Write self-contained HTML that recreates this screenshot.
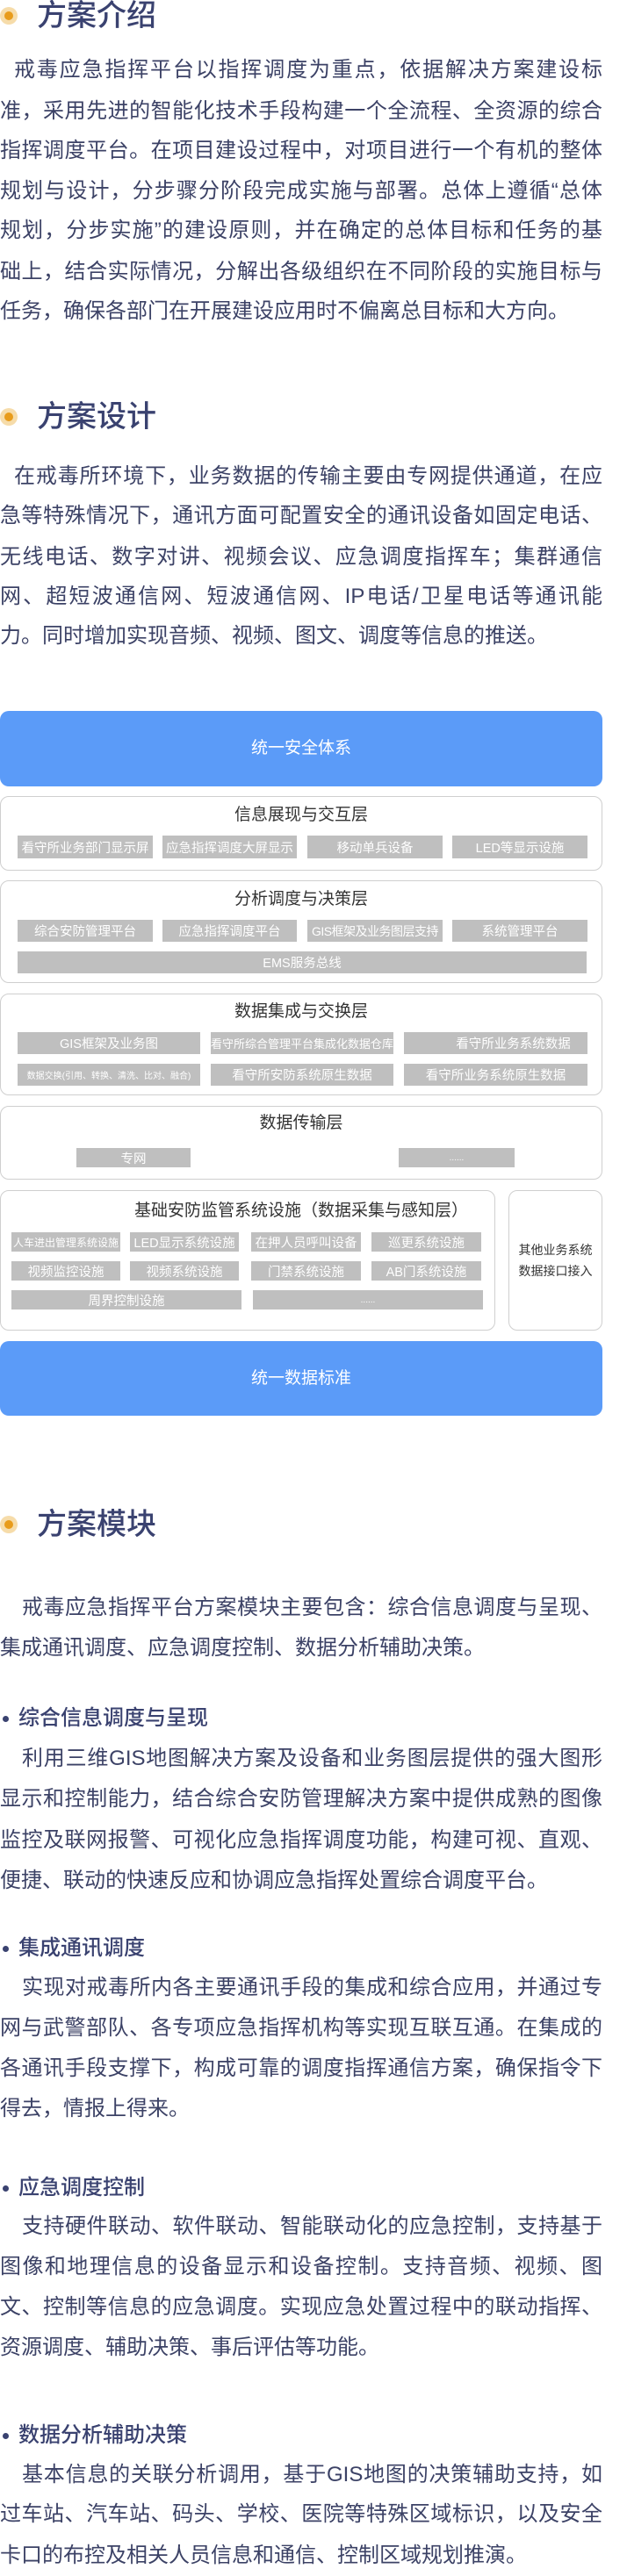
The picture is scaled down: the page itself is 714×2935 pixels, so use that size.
<!DOCTYPE html>
<html><head><meta charset="utf-8">
<style>
*{margin:0;padding:0;box-sizing:border-box}
body{width:714px;height:2923px;background:#fff;position:relative;overflow:hidden;font-family:"Liberation Sans","Noto Sans CJK SC",sans-serif}
.h{position:absolute;left:42px;font-size:34px;line-height:40px;color:#3a4270;font-weight:500;height:40px}
.dot{position:absolute;left:0;width:20px;height:20px;border-radius:50%;background:#f6dcaa}
.dot::after{content:"";position:absolute;left:5px;top:5px;width:10px;height:10px;border-radius:50%;background:#e89c1c}
.l{position:absolute;left:0;width:686px;height:46px;line-height:46px;font-size:24px;color:#3c4266;white-space:nowrap;text-align:justify;text-align-last:justify}
.l.e{text-align-last:left}
.i1{padding-left:16px}
.i2{padding-left:25px}
.b{position:absolute;left:21px;font-size:24px;line-height:46px;height:46px;color:#3a4270;font-weight:500}
.b::before{content:"";position:absolute;left:-18px;top:20px;width:7px;height:7px;border-radius:50%;background:#3a4270}
.blue{position:absolute;left:0;width:686px;background:#5b9bf8;border-radius:10px;color:#fff;font-size:19px;text-align:center}
.box{position:absolute;border:1.5px solid #cfcfcf;border-radius:10px;background:#fff}
.t{position:absolute;left:0;width:686px;text-align:center;font-size:19px;color:#333;line-height:26px}
.it{position:absolute;background:#bfbfbf;color:#fff;font-size:14.5px;display:flex;align-items:center;justify-content:center;white-space:nowrap;overflow:hidden}
</style></head><body>

<div class="dot" style="top:8px"></div>
<div class="h" style="top:-2px">方案介绍</div>
<div class="l i1" style="top:57px">戒毒应急指挥平台以指挥调度为重点，依据解决方案建设标</div>
<div class="l" style="top:104px">准，采用先进的智能化技术手段构建一个全流程、全资源的综合</div>
<div class="l" style="top:149px">指挥调度平台。在项目建设过程中，对项目进行一个有机的整体</div>
<div class="l" style="top:195px">规划与设计，分步骤分阶段完成实施与部署。总体上遵循“总体</div>
<div class="l" style="top:240px">规划，分步实施”的建设原则，并在确定的总体目标和任务的基</div>
<div class="l" style="top:287px">础上，结合实际情况，分解出各级组织在不同阶段的实施目标与</div>
<div class="l e" style="top:332px">任务，确保各部门在开展建设应用时不偏离总目标和大方向。</div>

<div class="dot" style="top:465px"></div>
<div class="h" style="top:455px">方案设计</div>
<div class="l i1" style="top:520px">在戒毒所环境下，业务数据的传输主要由专网提供通道，在应</div>
<div class="l" style="top:565px">急等特殊情况下，通讯方面可配置安全的通讯设备如固定电话、</div>
<div class="l" style="top:612px">无线电话、数字对讲、视频会议、应急调度指挥车；集群通信</div>
<div class="l" style="top:657px">网、超短波通信网、短波通信网、IP电话/卫星电话等通讯能</div>
<div class="l e" style="top:702px">力。同时增加实现音频、视频、图文、调度等信息的推送。</div>

<div class="blue" style="top:810px;height:86px;line-height:86px">统一安全体系</div>

<div class="box" style="left:0;top:907px;width:686px;height:85px"></div>
<div class="t" style="top:916px">信息展现与交互层</div>
<div class="it" style="left:20px;top:952px;width:154px;height:26px">看守所业务部门显示屏</div>
<div class="it" style="left:185px;top:952px;width:153px;height:26px">应急指挥调度大屏显示</div>
<div class="it" style="left:350px;top:952px;width:154px;height:26px">移动单兵设备</div>
<div class="it" style="left:515px;top:952px;width:154px;height:26px">LED等显示设施</div>

<div class="box" style="left:0;top:1003px;width:686px;height:117px"></div>
<div class="t" style="top:1012px">分析调度与决策层</div>
<div class="it" style="left:20px;top:1048px;width:154px;height:25px">综合安防管理平台</div>
<div class="it" style="left:185px;top:1048px;width:153px;height:25px">应急指挥调度平台</div>
<div class="it" style="left:350px;top:1048px;width:154px;height:25px;font-size:14px;letter-spacing:-0.5px">GIS框架及业务图层支持</div>
<div class="it" style="left:515px;top:1048px;width:154px;height:25px">系统管理平台</div>
<div class="it" style="left:20px;top:1084px;width:648px;height:25px">EMS服务总线</div>

<div class="box" style="left:0;top:1132px;width:686px;height:116px"></div>
<div class="t" style="top:1140px">数据集成与交换层</div>
<div class="it" style="left:20px;top:1176px;width:208px;height:25px">GIS框架及业务图</div>
<div class="it" style="left:240px;top:1176px;width:208px;height:25px;font-size:13px">看守所综合管理平台集成化数据仓库</div>
<div class="it" style="left:460px;top:1176px;width:209px;height:25px;padding-left:40px">看守所业务系统数据</div>
<div class="it" style="left:20px;top:1212px;width:208px;height:25px;font-size:10px">数据交换(引用、转换、清洗、比对、融合)</div>
<div class="it" style="left:240px;top:1212px;width:208px;height:25px">看守所安防系统原生数据</div>
<div class="it" style="left:460px;top:1212px;width:209px;height:25px">看守所业务系统原生数据</div>

<div class="box" style="left:0;top:1260px;width:686px;height:84px"></div>
<div class="t" style="top:1267px">数据传输层</div>
<div class="it" style="left:87px;top:1308px;width:130px;height:22px">专网</div>
<div class="it" style="left:454px;top:1308px;width:132px;height:22px;font-size:10px">......</div>

<div class="box" style="left:0;top:1356px;width:564px;height:160px"></div>
<div class="t" style="top:1367px;left:0;width:686px">基础安防监管系统设施（数据采集与感知层）</div>
<div class="it" style="left:13px;top:1404px;width:124px;height:22px;font-size:12px">人车进出管理系统设施</div>
<div class="it" style="left:148px;top:1404px;width:124px;height:22px">LED显示系统设施</div>
<div class="it" style="left:286px;top:1404px;width:125px;height:22px">在押人员呼叫设备</div>
<div class="it" style="left:423px;top:1404px;width:125px;height:22px">巡更系统设施</div>
<div class="it" style="left:13px;top:1437px;width:124px;height:22px">视频监控设施</div>
<div class="it" style="left:148px;top:1437px;width:124px;height:22px">视频系统设施</div>
<div class="it" style="left:286px;top:1437px;width:125px;height:22px">门禁系统设施</div>
<div class="it" style="left:423px;top:1437px;width:125px;height:22px">AB门系统设施</div>
<div class="it" style="left:13px;top:1470px;width:262px;height:22px">周界控制设施</div>
<div class="it" style="left:288px;top:1470px;width:262px;height:22px;font-size:10px">......</div>

<div class="box" style="left:579px;top:1356px;width:107px;height:160px"></div>
<div style="position:absolute;left:579px;top:1412px;width:107px;text-align:center;font-size:14px;line-height:24px;color:#333">其他业务系统<br>数据接口接入</div>

<div class="blue" style="top:1528px;height:85px;line-height:85px">统一数据标准</div>

<div class="dot" style="top:1727px"></div>
<div class="h" style="top:1717px">方案模块</div>
<div class="l i2" style="top:1809px">戒毒应急指挥平台方案模块主要包含：综合信息调度与呈现、</div>
<div class="l e" style="top:1855px">集成通讯调度、应急调度控制、数据分析辅助决策。</div>

<div class="b" style="top:1935px">综合信息调度与呈现</div>
<div class="l i2" style="top:1981px">利用三维GIS地图解决方案及设备和业务图层提供的强大图形</div>
<div class="l" style="top:2027px">显示和控制能力，结合综合安防管理解决方案中提供成熟的图像</div>
<div class="l" style="top:2074px">监控及联网报警、可视化应急指挥调度功能，构建可视、直观、</div>
<div class="l e" style="top:2120px">便捷、联动的快速反应和协调应急指挥处置综合调度平台。</div>

<div class="b" style="top:2197px">集成通讯调度</div>
<div class="l i2" style="top:2242px">实现对戒毒所内各主要通讯手段的集成和综合应用，并通过专</div>
<div class="l" style="top:2288px">网与武警部队、各专项应急指挥机构等实现互联互通。在集成的</div>
<div class="l" style="top:2334px">各通讯手段支撑下，构成可靠的调度指挥通信方案，确保指令下</div>
<div class="l e" style="top:2380px">得去，情报上得来。</div>

<div class="b" style="top:2470px">应急调度控制</div>
<div class="l i2" style="top:2514px">支持硬件联动、软件联动、智能联动化的应急控制，支持基于</div>
<div class="l" style="top:2560px">图像和地理信息的设备显示和设备控制。支持音频、视频、图</div>
<div class="l" style="top:2606px">文、控制等信息的应急调度。实现应急处置过程中的联动指挥、</div>
<div class="l e" style="top:2652px">资源调度、辅助决策、事后评估等功能。</div>

<div class="b" style="top:2752px">数据分析辅助决策</div>
<div class="l i2" style="top:2797px">基本信息的关联分析调用，基于GIS地图的决策辅助支持，如</div>
<div class="l" style="top:2842px">过车站、汽车站、码头、学校、医院等特殊区域标识，以及安全</div>
<div class="l e" style="top:2889px">卡口的布控及相关人员信息和通信、控制区域规划推演。</div>

</body></html>
